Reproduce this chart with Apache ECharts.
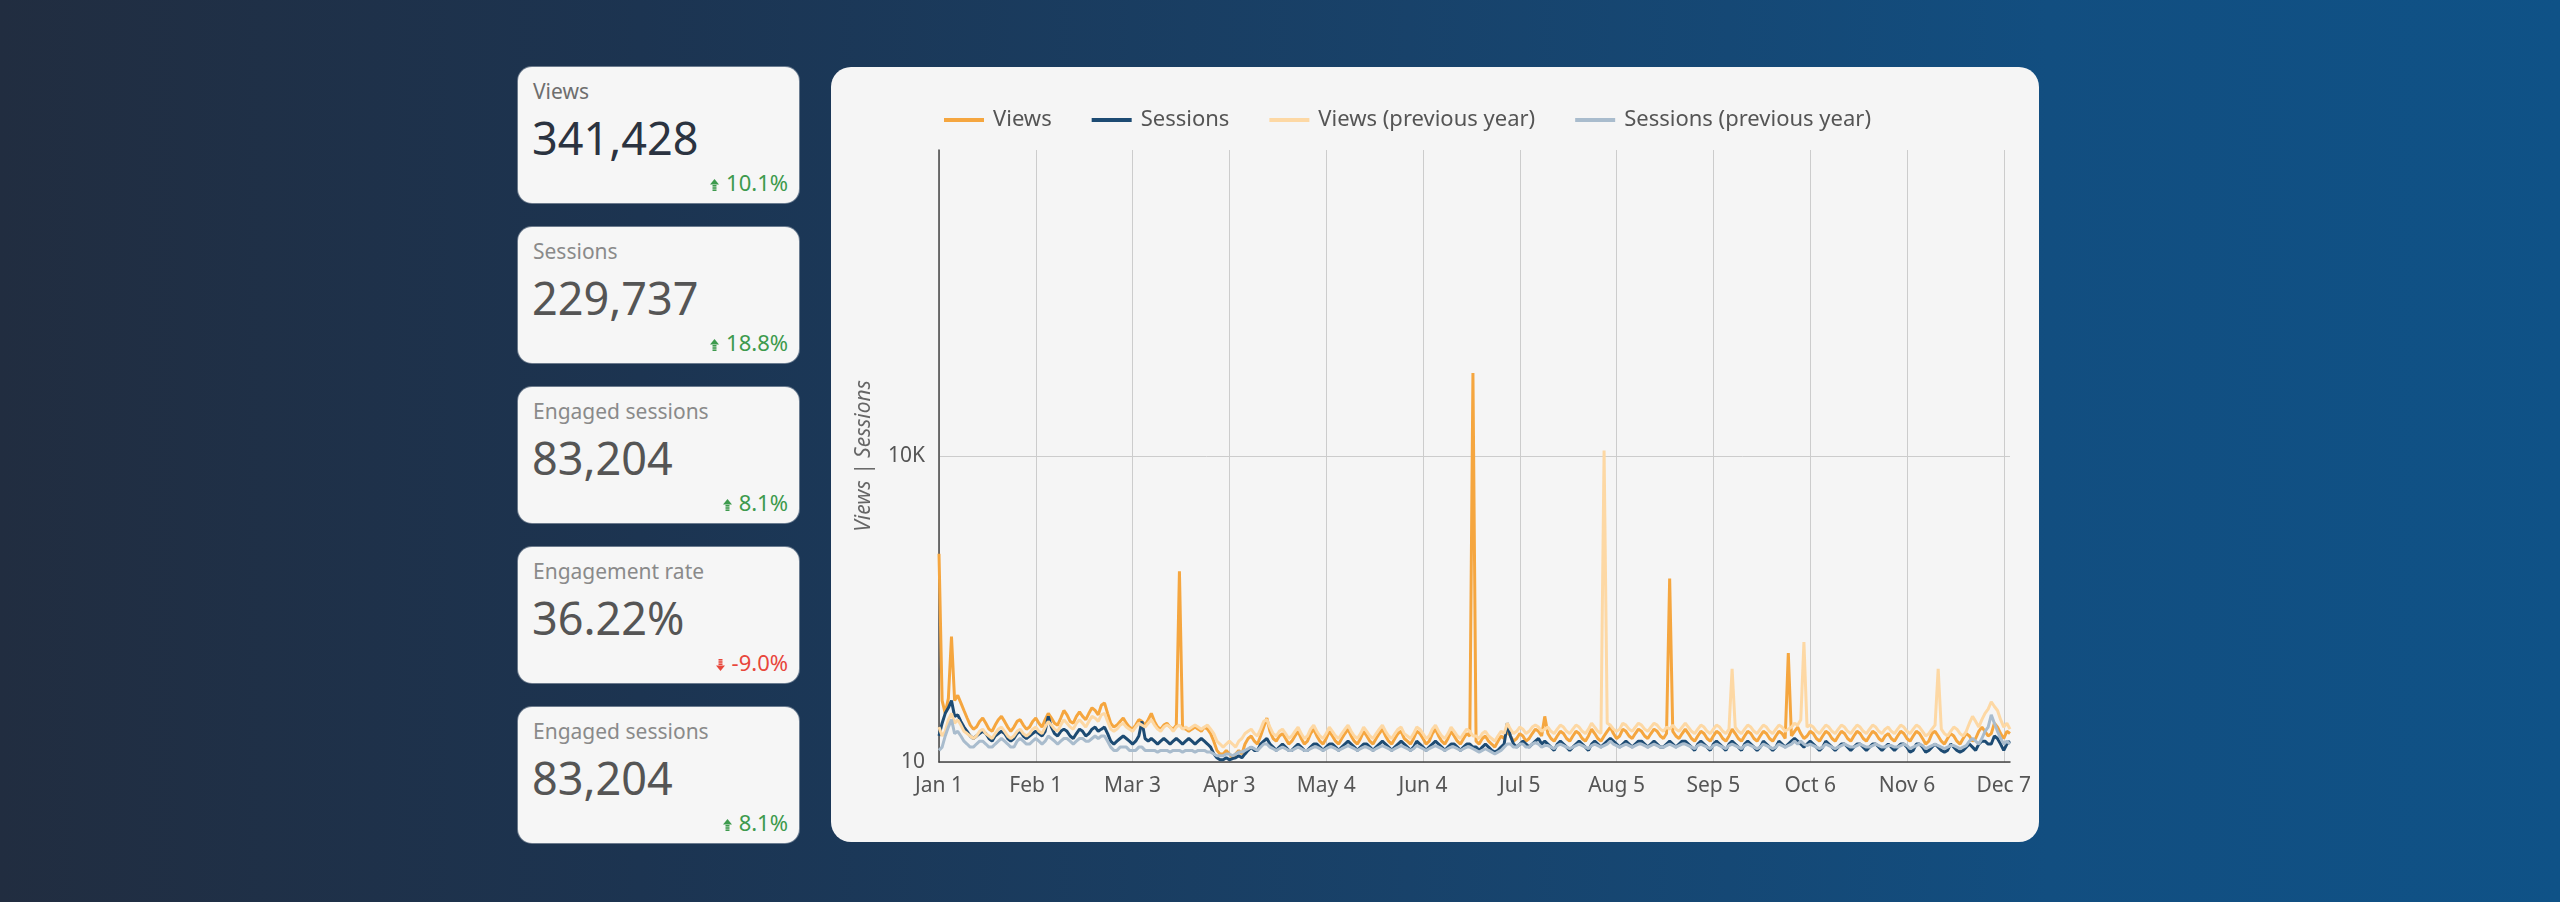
<!DOCTYPE html>
<html><head><meta charset="utf-8">
<script src="https://cdn.jsdelivr.net/npm/echarts@6/dist/echarts.min.js"></script>
<style>
html,body{margin:0;padding:0;}
body{width:2560px;height:902px;overflow:hidden;background:linear-gradient(90deg,#212d40 0%,#1c3451 25%,#18426a 55%,#124e80 80%,#0f5287 100%);font-family:'Noto Sans','Open Sans',sans-serif;position:relative;}
.card{position:absolute;left:518px;width:281px;height:136px;background:#f6f6f6;border-radius:14px;box-shadow:0 0 0 1px rgba(255,255,255,0.35);}
.card .t{position:absolute;left:15px;top:14px;font-size:21px;line-height:21px;color:#8a8a8a;white-space:nowrap;}
.card .v{position:absolute;left:14px;top:48px;font-size:45px;line-height:45px;color:#555;white-space:nowrap;}
.card .c{position:absolute;right:11px;top:104px;font-size:22px;line-height:22px;white-space:nowrap;}
.card .c svg{vertical-align:baseline;margin-right:7px;}
#chart{position:absolute;left:831px;top:67px;width:1208px;height:775px;background:#f5f5f5;border-radius:20px;}
</style></head><body>
<div id="cards"></div>
<div id="chart"></div>
<script>
// KPI cards
const kpiNames = ['Views','Sessions','Engaged sessions','Engagement rate','Engaged sessions'];
const kpiValues = ['341,428','229,737','83,204','36.22%','83,204'];
const kpiChanges = ['10.1%','18.8%','8.1%','-9.0%','8.1%'];
const kpiUp = [true,true,true,false,true];

// Daily series (Jan 1 - Dec 9, 2024), by month
const vJan=[1100,40,30,42,170,40,45, 38,32,27,23,21,22,25, 27,24,21,20,23,26,28, 25,22,20,22,25,26,23, 21,22,25];
const vFeb=[27,24,22,26,30,27,24, 23,27,32,29,25,24,28, 31,28,26,30,34,32,29, 36,38,30,24,22,23,25,27];
const vMar=[24,22,21,23,26,25,23, 26,30,25,22,21,23,24, 22,21,23,740,22,21,20, 21,22,21,20,22,21,19, 16,13,12];
const vApr=[12,13,12,11,12,13,12, 15,17,18,16,15,18,22, 27,20,17,16,18,19,17, 15,16,18,20,17,15,16,19,21];
const vMay=[18,16,15,17,20,18,16, 15,17,19,21,18,16,15, 17,20,18,16,15,17,19, 21,18,16,15,17,19,20,17,16,15];
const vJun=[17,20,19,17,15,16,19, 21,18,16,15,17,20,18, 16,15,17,19,18,65000, 16,15,17,18,16,15,14,16,18,17];
const vJul=[20,18,16,17,19,18,16, 17,19,21,20,18,28,19, 17,16,18,20,19,17,16, 18,20,19,17,16,18,21,19,17,16];
const vAug=[18,20,22,19,17,18,21, 20,18,17,19,21,20,18, 17,19,21,20,18,17,19, 630,20,18,17,19,21,19,17,16,18];
const vSep=[20,19,17,16,18,20,19, 17,16,18,21,19,17,16, 18,20,19,17,16,18,20, 19,17,16,18,20,19,17,117,18];
const vOct=[20,22,19,17,18,20,19, 17,16,18,20,19,17,16, 18,20,19,17,16,18,20, 19,17,16,18,20,19,17,16,18,19];
const vNov=[17,16,18,20,19,17,16, 18,20,19,17,15,16,19, 20,18,16,15,17,19,18, 16,15,17,19,18,16,17,20,22];
const vDec=[20,18,19,24,22,19,17,20,19];

const sJan=[18,24,30,34,40,28,29, 25,22,20,18,17,18,19, 20,19,17,16,18,19,20, 19,17,16,17,19,20,18, 17,18,19];
const sFeb=[20,19,18,20,28,22,19, 18,20,21,20,18,17,19, 21,20,18,19,21,22,20, 21,22,19,16,15,16,17,18];
const sMar=[17,16,15,16,18,25,17, 16,17,16,15,16,17,16, 15,16,17,16,15,16,17, 16,15,16,17,16,15,14, 12,11,10.5];
const sApr=[10.5,11,10.5,10.8,11,11.5,11, 12,13,14,13,13,15,16, 17,15,14,13,14,15,14, 13,13,14,15,14,13,13,14,15];
const sMay=[15,14,13,14,15,15,14, 13,14,15,16,15,14,13, 14,15,15,14,13,14,15, 16,15,14,13,14,15,16,15,14,13];
const sJun=[14,16,15,14,13,14,15, 16,15,14,13,14,15,15, 14,13,14,15,15,14, 14,13,14,15,14,13,12.5,13,14,15];
const sJul=[24,18,15,14,15,16,15, 14,15,16,17,15,16,15, 14,13,15,16,15,14,13, 14,15,16,15,14,13,15,16,15,14];
const sAug=[15,16,17,16,15,14,15, 16,15,14,15,16,16,15, 14,15,16,15,14,14,15, 16,15,14,15,16,16,15,14,13,15];
const sSep=[16,15,14,13,15,16,15, 14,13,15,16,15,14,13, 15,16,15,14,13,14,16, 15,14,13,14,16,15,14,15,16];
const sOct=[17,16,15,14,15,16,15, 14,13,14,16,15,14,13, 14,15,15,14,13,14,15, 15,14,13,14,15,15,14,13,14,15];
const sNov=[14,13,14,15,15,14,12.5, 13,15,15,14,12.5,13,14, 15,14,13,12.5,13,15,14, 13,12.5,13,14,15,14,13,15,16];
const sDec=[16,15,15,18,17,15,13,15,16];

const vpJan=[22,18,20,26,30,24,26, 23,20,19,18,17,18,20, 21,19,18,17,19,21,22, 20,18,17,18,20,21,19, 18,19,21];
const vpFeb=[22,20,19,22,25,23,21, 20,23,26,24,22,21,24, 26,24,22,25,28,27,25, 29,30,25,21,20,21,23,24];
const vpMar=[22,21,20,22,24,23,22, 24,26,23,21,20,22,23, 22,20,22,23,21,22,21, 22,23,22,21,22,23,21, 19,16,15];
const vpApr=[14,15,16,15,14,16,17, 19,20,21,19,18,21,25, 26,22,19,18,20,21,19, 17,18,20,22,19,17,18,21,23];
const vpMay=[20,18,17,19,22,20,18, 17,19,21,23,20,18,17, 19,22,20,18,17,19,21, 23,20,18,17,19,21,22,19,18,17];
const vpJun=[19,22,21,19,17,18,21, 23,20,18,17,19,22,20, 18,17,19,21,20,18, 18,17,19,20,18,17,16,18,20,19];
const vpJul=[24,21,19,20,22,21,19, 20,22,23,22,20,21,22, 20,19,21,23,22,20,19, 21,23,22,20,19,21,24,22,20,19];
const vpAug=[11300,24,23,21,20,21,24, 23,21,20,22,24,23,21, 20,22,24,23,21,20,22, 21,23,21,20,22,24,22,20,19,21];
const vpSep=[23,22,20,19,21,23,22, 20,19,21,82,22,20,19, 21,23,22,20,19,21,23, 22,20,19,21,23,22,20,21,22];
const vpOct=[24,23,26,150,22,23,22, 20,19,21,23,22,20,19, 21,23,22,20,19,21,23, 22,20,19,21,23,22,20,19,21,22];
const vpNov=[20,19,21,23,22,20,19, 21,23,22,20,18,19,21, 23,82,21,19,18,20,22, 21,19,18,20,24,28,25,22,26];
const vpDec=[30,33,39,35,32,26,22,24,21];

const spJan=[13,14,18,22,26,19,20, 18,16,15,14,14,15,16, 16,15,14,14,15,16,17, 16,15,14,14,16,17,16, 15,15,16];
const spFeb=[17,16,15,16,18,17,16, 15,16,17,17,16,15,16, 17,17,16,16,17,18,17, 18,18,16,14,13,13,14,14];
const spMar=[14,13,13,13,14,14,13, 13,13,13,12.5,13,13,13, 12.5,13,13,13,12.5,13,13, 13,12.5,13,13,13,12.5,12.5, 12,11.5,11.5];
const spApr=[11.5,12,12,11.5,12,12.5,12.5, 13,13.5,14,13.5,13,14,15, 15,14,13.5,13,13.5,14,13.5, 13,13,13.5,14,13.5,13,13,13.5,14];
const spMay=[14,13.5,13,13.5,14,14,13.5, 13,13.5,14,14.5,14,13.5,13, 13.5,14,14,13.5,13,13.5,14, 14.5,14,13.5,13,13.5,14,14.5,14,13.5,13];
const spJun=[13.5,14.5,14,13.5,13,13.5,14, 14.5,14,13.5,13,13.5,14,14, 13.5,13,13.5,14,14,13.5, 13,12.5,13,13.5,13,12.5,12,12.5,13,14];
const spJul=[15,15,14,14,15,15,14, 14,15,15.5,15,14,14.5,14.5, 14,13.5,14.5,15,14.5,14,13.5, 14,14.5,15,14.5,14,13.5,14.5,15,14.5,14];
const spAug=[14.5,15,16,15,14.5,14,14.5, 15,14.5,14,14.5,15,15,14.5, 14,14.5,15,14.5,14,14,14.5, 15,14.5,14,14.5,15,15,14.5,14,13.5,14.5];
const spSep=[15,14.5,14,13.5,14.5,15,14.5, 14,13.5,14.5,15,14.5,14,13.5, 14.5,15,14.5,14,13.5,14,15, 14.5,14,13.5,14,15,14.5,14,14.5,15];
const spOct=[16,15,16,15,14.5,15,14.5, 14,13.5,14,15,14.5,14,13.5, 14,14.5,15,14.5,14,14,14.5, 15,14.5,14,14,14.5,15,14.5,14,14,14.5];
const spNov=[14.5,14,14,14.5,15,14.5,13.5, 14,14.5,15,14.5,13.5,14,14.5, 15,14.5,14,13.5,14,14.5,14.5, 14,13.5,14,14.5,16,17,16,15,17];
const spDec=[20,22,29,24,20,17,15,16,15];

const views = [].concat(vJan,vFeb,vMar,vApr,vMay,vJun,vJul,vAug,vSep,vOct,vNov,vDec);
const sessions = [].concat(sJan,sFeb,sMar,sApr,sMay,sJun,sJul,sAug,sSep,sOct,sNov,sDec);
const viewsPrev = [].concat(vpJan,vpFeb,vpMar,vpApr,vpMay,vpJun,vpJul,vpAug,vpSep,vpOct,vpNov,vpDec);
const sessionsPrev = [].concat(spJan,spFeb,spMar,spApr,spMay,spJun,spJul,spAug,spSep,spOct,spNov,spDec);

const seriesNames = ['Views','Sessions','Views (previous year)','Sessions (previous year)'];
const seriesColors = ['#f5a63f','#1d4b73','#fdd8a4','#a9bccd'];
const yAxisName = 'Views | Sessions';

// categories: daily dates
const monthNames = ['Jan','Feb','Mar','Apr','May','Jun','Jul','Aug','Sep','Oct','Nov','Dec'];
const categories = [];
for (let i = 0; i < views.length; i++) {
  const d = new Date(2024, 0, 1 + i);
  categories.push(monthNames[d.getMonth()] + ' ' + d.getDate());
}

// build cards
const cardsEl = document.getElementById('cards');
const upSvg = '<svg width="9" height="12" viewBox="0 0 9 12"><polygon points="0,5.5 4.5,0 9,5.5" fill="#3d9a4d"/><rect x="2.5" y="6" width="4" height="1.6" fill="#3d9a4d"/><rect x="2.5" y="8.2" width="4" height="1.6" fill="#3d9a4d"/><rect x="2.5" y="10.4" width="4" height="1.6" fill="#3d9a4d"/></svg>';
const downSvg = '<svg width="9" height="12" viewBox="0 0 9 12"><rect x="2.5" y="0" width="4" height="1.6" fill="#e8463b"/><rect x="2.5" y="2.2" width="4" height="1.6" fill="#e8463b"/><rect x="2.5" y="4.4" width="4" height="1.6" fill="#e8463b"/><polygon points="0,6.5 4.5,12 9,6.5" fill="#e8463b"/></svg>';
kpiNames.forEach((n, i) => {
  const c = document.createElement('div');
  c.className = 'card';
  c.style.top = (67 + i * 160) + 'px';
  const tColor = i === 0 ? '#6e6e6e' : '#8a8a8a';
  const vColor = i === 0 ? '#2b3340' : '#555555';
  const chColor = kpiUp[i] ? '#3d9a4d' : '#e8463b';
  c.innerHTML = '<div class="t" style="color:' + tColor + '">' + n + '</div>' +
    '<div class="v" style="color:' + vColor + '">' + kpiValues[i] + '</div>' +
    '<div class="c" style="color:' + chColor + '">' + (kpiUp[i] ? upSvg : downSvg) + kpiChanges[i] + '</div>';
  cardsEl.appendChild(c);
});

const chart = echarts.init(document.getElementById('chart'), null, {renderer: 'canvas'});
const font = "'Noto Sans', 'Open Sans', sans-serif";
const data = [views, sessions, viewsPrev, sessionsPrev];
chart.setOption({
  animation: false,
  textStyle: {fontFamily: font},
  grid: {left: 108, right: 29, top: 83, bottom: 80, containLabel: false},
  legend: {
    left: 108, top: 37, icon: 'rect', itemWidth: 40, itemHeight: 4, itemGap: 40,
    textStyle: {fontSize: 22, color: '#555', fontFamily: font, padding: [0, 0, 0, 4]},
    data: seriesNames
  },
  xAxis: {
    type: 'category', data: categories, boundaryGap: false,
    axisLine: {lineStyle: {color: '#444', width: 1.5}},
    axisTick: {show: false},
    axisLabel: {interval: 30, color: '#555', fontSize: 21, margin: 14, fontFamily: font},
    splitLine: {show: true, interval: 30, lineStyle: {color: '#cccccc', width: 1}}
  },
  yAxis: {
    type: 'log', logBase: 10, min: 10, max: 10000000, interval: 3,
    name: yAxisName, nameLocation: 'middle', nameGap: 64,
    nameTextStyle: {fontStyle: 'italic', color: '#666', fontSize: 21, fontFamily: font},
    axisLine: {show: true, lineStyle: {color: '#444', width: 1.5}},
    axisTick: {show: false},
    axisLabel: {
      color: '#555', fontSize: 21, margin: 14, fontFamily: font, showMaxLabel: false,
      formatter: function (v) { if (v >= 1000000) return ''; if (v >= 1000) return (v / 1000) + 'K'; return String(v); }
    },
    splitLine: {show: true, showMaxLine: false, lineStyle: {color: '#cccccc', width: 1}}
  },
  series: seriesNames.map((n, i) => ({
    name: n, type: 'line', data: data[i], showSymbol: false, symbol: 'none',
    lineStyle: {width: 3, color: seriesColors[i]}, itemStyle: {color: seriesColors[i]},
    z: 2
  }))
});
</script>
</body></html>
